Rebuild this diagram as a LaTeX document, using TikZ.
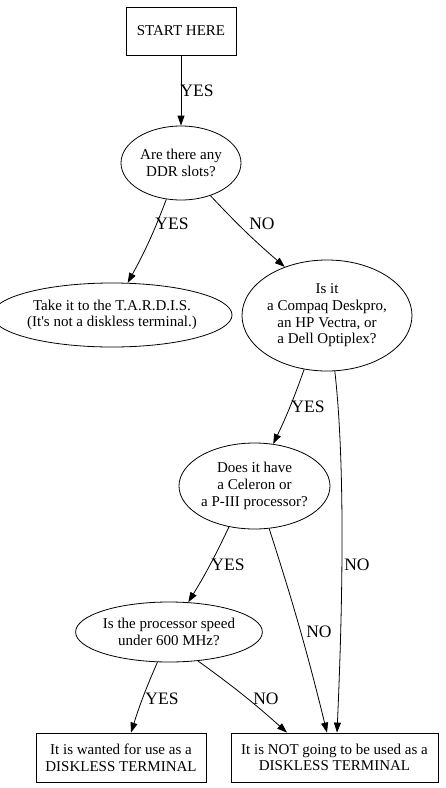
\documentclass[tikz,border=0pt]{standalone}
\usepackage{fontspec}
\setmainfont{Liberation Serif}[Ligatures=TeXOff]
\usetikzlibrary{shapes.geometric,arrows.meta}
\begin{document}
\begin{tikzpicture}[x=1pt,y=-1pt,
  every node/.style={font=\fontsize{15}{16.7}\selectfont, align=center, inner sep=0pt},
  boxnode/.style={draw, rectangle, line width=0.8pt},
  ellnode/.style={draw, ellipse, line width=0.8pt},
  edgelabel/.style={font=\fontsize{17.5}{20}\selectfont},
  conn/.style={line width=0.8pt, -{Triangle[length=10pt,width=7pt]}}]
\useasboundingbox (0,0) rectangle (446,788);
\node[boxnode, minimum width=110pt, minimum height=48pt] (start) at (181,31) {START HERE};
\node[ellnode, minimum width=120pt, minimum height=74pt] (ddr) at (181,163) {Are there any\\DDR slots?};
\node[ellnode, minimum width=208pt, minimum height=64pt] (tardis) at (112,315) {Take it to the T.A.R.D.I.S.\\(It's not a diskless terminal.)};
\node[ellnode, minimum width=170pt, minimum height=111pt] (isit) at (327,315.5) {Is it\\a Compaq Deskpro,\\an HP Vectra, or\\a Dell Optiplex?};
\node[ellnode, minimum width=151pt, minimum height=86pt] (does) at (254.5,486) {Does it have\\a Celeron or\\a P-III processor?};
\node[ellnode, minimum width=172pt, minimum height=60pt] (speed) at (169,632) {Is the processor speed\\under 600 MHz?};
\node[boxnode, minimum width=170pt, minimum height=49pt] (want) at (121,757.5) {It is wanted for use as a\\DISKLESS TERMINAL};
\node[boxnode, minimum width=207pt, minimum height=49pt] (notgo) at (334.5,757.5) {It is NOT going to be used as a\\DISKLESS TERMINAL};

\draw[conn] (start.south) -- (ddr.north);
\draw[conn] (ddr.-112.6) to[bend left=4] (tardis.64.9);
\draw[conn] (ddr.-48.8) to[bend right=3] (isit.131.2);
\draw[conn] (isit.-113.3) to[bend left=3] (does.66.7);
\draw[conn] (isit.-82.9) .. controls (346,470) and (342,620) .. ([xshift=2.5pt]notgo.north);
\draw[conn] (does.-122.2) to[bend left=3] (speed.57.7);
\draw[conn] (does.-71) to[bend left=2] ([xshift=-7.5pt]notgo.north);
\draw[conn] (speed.-111.8) to[bend right=3] ([xshift=10pt]want.north);
\draw[conn] (speed.-45) to[bend left=3] ([xshift=-47.5pt]notgo.north);

\node[edgelabel] (l1) at (197,91) {YES};
\node[edgelabel] (l2) at (172,224) {YES};
\node[edgelabel] (l3) at (262,224) {NO};
\node[edgelabel] (l4) at (308,407) {YES};
\node[edgelabel] (l5) at (357,565) {NO};
\node[edgelabel] (l6) at (228,565) {YES};
\node[edgelabel] (l7) at (319,632) {NO};
\node[edgelabel] (l8) at (162,699) {YES};
\node[edgelabel] (l9) at (266,699) {NO};
\end{tikzpicture}
\end{document}
